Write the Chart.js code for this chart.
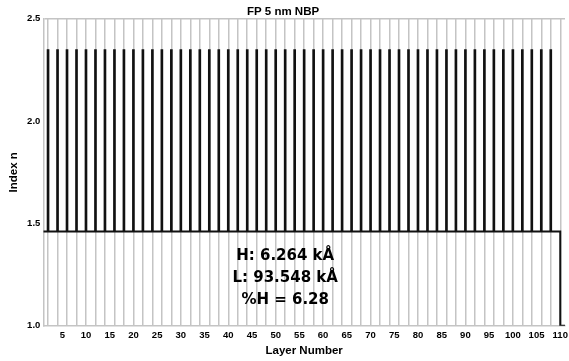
<!DOCTYPE html>
<html>
<head>
<meta charset="utf-8">
<script src="https://cdn.jsdelivr.net/npm/chart.js@4.4.1/dist/chart.umd.min.js"></script>
<style>
  body { margin: 0; background: #fff; }
  #wrap { width: 569px; height: 361px; position: relative; }
</style>
</head>
<body>
<div id="wrap"><canvas id="chart"></canvas></div>
<script>
// layer stack
const layerNumber = [
  1, 2, 3, 4, 5, 6, 7, 8, 9, 10,
  11, 12, 13, 14, 15, 16, 17, 18, 19, 20,
  21, 22, 23, 24, 25, 26, 27, 28, 29, 30,
  31, 32, 33, 34, 35, 36, 37, 38, 39, 40,
  41, 42, 43, 44, 45, 46, 47, 48, 49, 50,
  51, 52, 53, 54, 55, 56, 57, 58, 59, 60,
  61, 62, 63, 64, 65, 66, 67, 68, 69, 70,
  71, 72, 73, 74, 75, 76, 77, 78, 79, 80,
  81, 82, 83, 84, 85, 86, 87, 88, 89, 90,
  91, 92, 93, 94, 95, 96, 97, 98, 99, 100,
  101, 102, 103, 104, 105, 106, 107, 108, 109, 110
];
const indexN = [
  1.46, 2.35, 1.46, 2.35, 1.46, 2.35, 1.46, 2.35, 1.46, 2.35,
  1.46, 2.35, 1.46, 2.35, 1.46, 2.35, 1.46, 2.35, 1.46, 2.35,
  1.46, 2.35, 1.46, 2.35, 1.46, 2.35, 1.46, 2.35, 1.46, 2.35,
  1.46, 2.35, 1.46, 2.35, 1.46, 2.35, 1.46, 2.35, 1.46, 2.35,
  1.46, 2.35, 1.46, 2.35, 1.46, 2.35, 1.46, 2.35, 1.46, 2.35,
  1.46, 2.35, 1.46, 2.35, 1.46, 2.35, 1.46, 2.35, 1.46, 2.35,
  1.46, 2.35, 1.46, 2.35, 1.46, 2.35, 1.46, 2.35, 1.46, 2.35,
  1.46, 2.35, 1.46, 2.35, 1.46, 2.35, 1.46, 2.35, 1.46, 2.35,
  1.46, 2.35, 1.46, 2.35, 1.46, 2.35, 1.46, 2.35, 1.46, 2.35,
  1.46, 2.35, 1.46, 2.35, 1.46, 2.35, 1.46, 2.35, 1.46, 2.35,
  1.46, 2.35, 1.46, 2.35, 1.46, 2.35, 1.46, 2.35, 1.46, 1.00
];
const highIndex = 2.35;
const yTicks = [1.0, 1.5, 2.0, 2.5];
const xTickLabels = [5, 10, 15, 20, 25, 30, 35, 40, 45, 50, 55, 60, 65, 70, 75, 80, 85, 90, 95, 100, 105, 110];
const infoLines = ['H: 6.264 kÅ', 'L: 93.548 kÅ', '%H = 6.28'];

// thin H layers drawn as spikes, the rest as a stepped line
const spikes = [];
const base = [];
layerNumber.forEach((l, i) => {
  if (indexN[i] === highIndex) {
    spikes.push({ x: l, y: [indexN[i - 1], indexN[i]] });
  } else {
    base.push({ x: l, y: indexN[i] });
  }
});
// last medium runs to the end of the axis
base.push({ x: layerNumber[layerNumber.length - 1] + 1, y: indexN[indexN.length - 1] });

const gridGray = '#c4c4c4';
const bold = (size, family) => ({ family: family || '"Liberation Sans", Arial, sans-serif', size: size, weight: 'bold' });

const infoText = {
  id: 'infoText',
  afterDatasetsDraw(chart) {
    const { ctx, scales } = chart;
    const ys = [1.32, 1.215, 1.105];
    ctx.save();
    ctx.fillStyle = '#000';
    ctx.font = 'bold 15px "DejaVu Sans", sans-serif';
    ctx.textAlign = 'center';
    ctx.textBaseline = 'alphabetic';
    infoLines.forEach((t, i) => {
      ctx.fillText(t, scales.x.getPixelForValue(52), scales.y.getPixelForValue(ys[i]));
    });
    ctx.restore();
  }
};

new Chart(document.getElementById('chart'), {
  type: 'line',
  data: {
    datasets: [
      {
        type: 'bar',
        data: spikes,
        backgroundColor: '#111',
        borderWidth: 0,
        barThickness: 2
      },
      {
        type: 'line',
        data: base,
        borderColor: '#111',
        borderWidth: 2,
        pointRadius: 0,
        stepped: 'before',
        fill: false
      }
    ]
  },
  options: {
    responsive: true,
    maintainAspectRatio: false,
    animation: false,
    layout: { padding: { right: 3, left: 0, top: 0, bottom: 0 } },
    plugins: {
      legend: { display: false },
      tooltip: { enabled: false },
      title: {
        display: true,
        text: 'FP 5 nm NBP',
        color: '#000',
        font: bold(11.5),
        padding: { top: 5, bottom: 0 }
      }
    },
    scales: {
      x: {
        type: 'linear',
        min: 1,
        max: 111,
        offset: false,
        grid: {
          offset: false,
          drawTicks: false,
          lineWidth: 1.5,
          color: c => (c.tick && c.tick.value % 2 === 0) ? gridGray : 'rgba(0,0,0,0)'
        },
        border: { color: gridGray, width: 1.5 },
        ticks: {
          stepSize: 1,
          autoSkip: false,
          maxRotation: 0,
          padding: 4,
          color: '#000',
          font: bold(9.5),
          callback: v => xTickLabels.includes(v) ? String(v) : ''
        },
        title: {
          display: true,
          text: 'Layer Number',
          color: '#000',
          font: bold(11.5),
          padding: { top: 0, bottom: 3 }
        },
        afterFit: s => { s.height = 35.3; }
      },
      y: {
        min: 1,
        max: 2.5,
        grid: {
          drawTicks: false,
          lineWidth: 1.5,
          color: c => (c.tick && c.tick.value === 2.5) ? gridGray : 'rgba(0,0,0,0)'
        },
        border: { color: gridGray, width: 1.5 },
        afterBuildTicks: s => { s.ticks = yTicks.map(v => ({ value: v })); },
        ticks: {
          padding: 3,
          color: '#000',
          font: bold(9.5),
          callback: v => Number(v).toFixed(1)
        },
        title: {
          display: true,
          text: 'Index n',
          color: '#000',
          font: bold(11.5),
          padding: { top: 7, bottom: 0 }
        },
        afterFit: s => { s.width = 43.3; }
      }
    }
  },
  plugins: [infoText]
});
</script>
</body>
</html>
